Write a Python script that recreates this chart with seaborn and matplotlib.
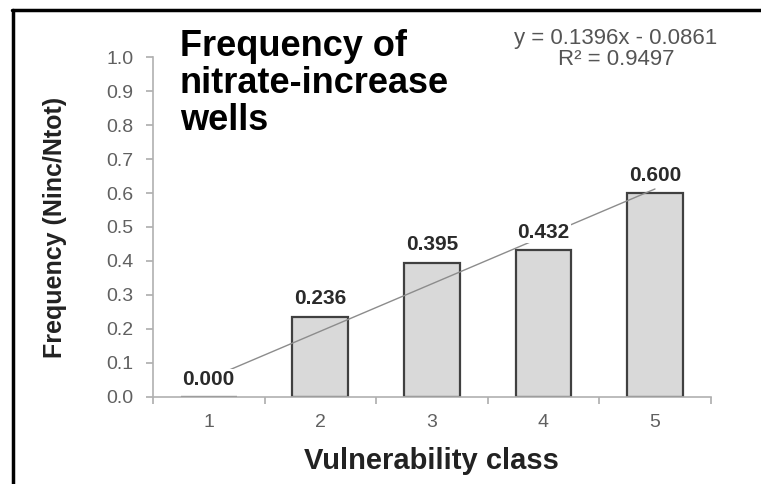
import numpy as np
import pandas as pd
import matplotlib
matplotlib.use("Agg")
import matplotlib.pyplot as plt
import seaborn as sns
from matplotlib.lines import Line2D

# data
classes = ["1", "2", "3", "4", "5"]
frequency = [0.000, 0.236, 0.395, 0.432, 0.600]
slope = 0.1396
intercept = -0.0861
r_squared = 0.9497

sns.set_theme(style="white")
plt.rcParams["font.family"] = ["Liberation Sans", "DejaVu Sans"]

df = pd.DataFrame({"cls": classes, "freq": frequency})

fig = plt.figure(figsize=(7.61, 4.84), dpi=100)
ax = fig.add_axes([0.201, 0.180, 0.733, 0.702])

sns.barplot(data=df, x="cls", y="freq", ax=ax, width=0.5,
            color="#d9d9d9", edgecolor="#404040", linewidth=1.6,
            saturation=1)

# linear trendline (Excel style)
xpos = np.arange(len(classes))
trend = slope * (xpos + 1) + intercept
ax.plot(xpos, trend, color="#8c8c8c", lw=1.0, zorder=3)

# value labels
for i, v in enumerate(frequency):
    ax.annotate(f"{v:.3f}", (i, v), xytext=(0, 6), textcoords="offset points",
                ha="center", va="bottom", fontsize=15, fontweight="bold",
                color="#2a2a2a", zorder=4,
                bbox=dict(boxstyle="square,pad=0.05", fc="white", ec="none"))

ax.set_xlim(-0.5, len(classes) - 0.5)
ax.set_ylim(0, 1.0)
yt = np.arange(0, 1.01, 0.1)
ax.set_yticks(yt)
ax.set_yticklabels([f"{t:.1f}" for t in yt])
ax.set_xticks(np.arange(-0.5, len(classes), 1.0))
ax.set_xticklabels([])
ax.set_xticks(xpos, minor=True)
ax.set_xticklabels(classes, minor=True)
ax.tick_params(axis="x", which="minor", length=0, pad=12.5, labelsize=14,
               labelcolor="#606060")
ax.tick_params(axis="x", which="major", length=5, color="#b0b0b0",
               direction="out", bottom=True)
ax.tick_params(axis="y", length=5, color="#b0b0b0", direction="out",
               left=True, labelsize=14, labelcolor="#606060", pad=9)

for s in ["top", "right"]:
    ax.spines[s].set_visible(False)
for s in ["left", "bottom"]:
    ax.spines[s].set_color("#b0b0b0")
    ax.spines[s].set_linewidth(1.2)

ax.set_xlabel("Vulnerability class", fontsize=21, fontweight="bold",
              color="#222222", labelpad=11)
ax.set_ylabel("Frequency (Ninc/Ntot)", fontsize=18, fontweight="bold",
              color="#222222", labelpad=28)

# title inside the plot area
fig.text(180 / 761, 1 - 29 / 484, "Frequency of\nnitrate-increase\nwells",
         ha="left", va="top", fontsize=26, fontweight="bold", color="black",
         linespacing=1.08)

# trendline equation
fig.text(616 / 761, 1 - 49 / 484,
         f"y = {slope:.4f}x - {abs(intercept):.4f}\nR² = {r_squared:.4f}",
         ha="center", va="center", fontsize=16, color="#555555",
         linespacing=1.05)

# frame border (top and left visible)
fig.add_artist(Line2D([12 / 761, 1], [1 - 10 / 484, 1 - 10 / 484],
                      transform=fig.transFigure, color="black", lw=2.5))
fig.add_artist(Line2D([13 / 761, 13 / 761], [0, 1 - 10 / 484],
                      transform=fig.transFigure, color="black", lw=2.5))

fig.savefig("out.png", dpi=100)
